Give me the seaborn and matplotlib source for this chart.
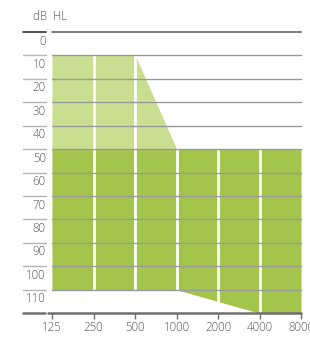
import matplotlib
matplotlib.use("Agg")
import matplotlib.pyplot as plt
import matplotlib.transforms as mtransforms
import seaborn as sns
import numpy as np
import pandas as pd

# ---- data ----
freqs = ["125", "250", "500", "1000", "2000", "4000", "8000"]
db_ticks = [0, 10, 20, 30, 40, 50, 60, 70, 80, 90, 100, 110]
light_top = [10, 10, 10, 50]          # 125..1000
light_bottom = [50, 50, 50, 50]
dark_top = [50, 50, 50, 50, 50, 50, 50]
dark_bottom = [110, 110, 110, 110, 115, 120, 120]
y_label = "dB  HL"

light_green = "#c9de91"
dark_green = "#a3c54b"
grid_col = "#9a9a9a"
axis_col = "#707070"
text_col = "#555555"

sns.set_style("white")
plt.rcParams["font.family"] = ["Open Sans", "DejaVu Sans"]
FS = 8.3

W, H = 310, 337
fig = plt.figure(figsize=(W / 100, H / 100), dpi=100)
left, right, top, bottom = 52, 301, 32, 313
ax = fig.add_axes([left / W, 1 - bottom / H, (right - left) / W, (bottom - top) / H])

x = np.arange(len(freqs))
df_dark = pd.DataFrame({"x": x, "top": dark_top, "bottom": dark_bottom})
df_light = pd.DataFrame({"x": x[:len(light_top)], "top": light_top, "bottom": light_bottom})

ax.fill_between(df_dark["x"], df_dark["top"], df_dark["bottom"], color=dark_green, lw=0, zorder=1)
ax.fill_between(df_light["x"], df_light["top"], df_light["bottom"], color=light_green, lw=0, zorder=1)
sns.lineplot(data=df_dark, x="x", y="bottom", ax=ax, color=dark_green, lw=0.5, zorder=1)
sns.lineplot(data=df_light, x="x", y="top", ax=ax, color=light_green, lw=0.5, zorder=1)

# white vertical separators
for xi in x[1:-1]:
    ax.axvline(xi, color="white", lw=2, zorder=2)

ax.set_xlim(0, len(freqs) - 1)
ax.set_ylim(120, 0)

# horizontal grid lines
blend = mtransforms.blended_transform_factory(ax.transAxes, ax.transData)
for v in db_ticks:
    c = axis_col if v == 0 else grid_col
    lw = 1.3 if v == 0 else 1.0
    ax.plot([0, 1], [v, v], transform=blend, color=c, lw=lw, zorder=3, clip_on=False)
    ax.plot([-0.117, -0.025], [v, v], transform=blend, color="#444444" if v == 0 else "#b5b5b5",
            lw=lw, zorder=3, clip_on=False)
    ax.text(-0.025, v + 3.9, str(v), transform=blend, ha="right", va="center",
            fontsize=FS, color=text_col, fontweight="light")
# bottom axis line
ax.plot([-0.016, 1], [120, 120], transform=blend, color=axis_col, lw=1.8, zorder=4, clip_on=False)
ax.plot([-0.117, -0.03], [120, 120], transform=blend, color=axis_col, lw=1.8, zorder=4, clip_on=False)

for s in ax.spines.values():
    s.set_visible(False)
ax.set_yticks([])
ax.set_xticks(x)
ax.set_xticklabels(freqs, fontsize=FS, color=text_col, fontweight="light")
ax.tick_params(axis="x", direction="out", length=4, width=1, color=axis_col, pad=2, bottom=True)
ax.set_xlabel("")
ax.set_ylabel("")

fig.text(33 / W, 1 - 17 / H, y_label, ha="left", va="center", fontsize=FS,
         color=text_col, fontweight="light")

fig.savefig("out.png", dpi=100)
